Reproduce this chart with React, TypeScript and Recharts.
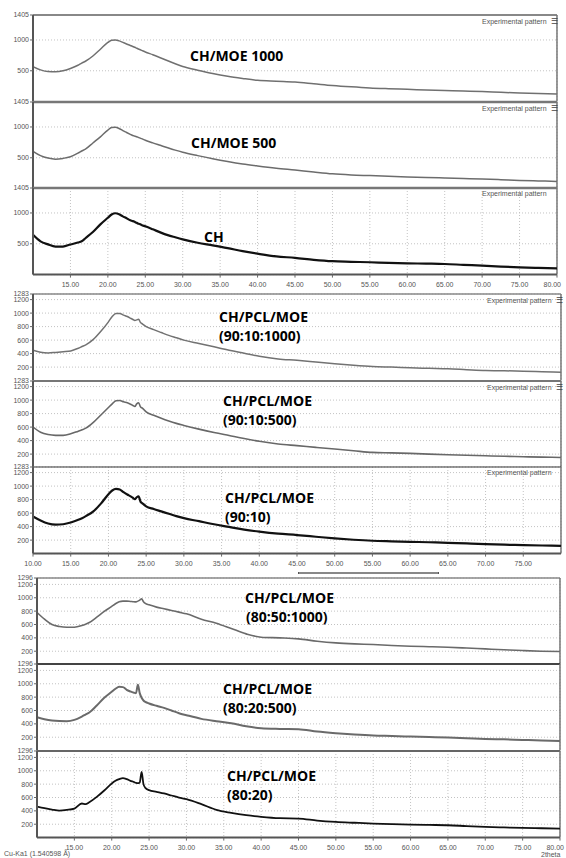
import { CartesianGrid, Line, LineChart, ReferenceLine, XAxis, YAxis } from "recharts"

// 2theta positions (deg) shared by all patterns
const angles = [
  10, 11, 12, 13, 14, 15, 16, 16.5, 17, 18, 19, 20, 20.5, 21, 21.5, 22, 22.5, 23, 23.25, 23.5, 23.75, 24, 24.25,
  24.5, 25, 26, 27, 28, 29, 30, 32, 34, 36, 38, 40, 42.5, 45, 47.5, 50, 52.5, 55, 57.5, 60, 62.5, 65, 67.5, 70,
  72.5, 75, 77.5, 80,
]

const chMoe1000 = [
  567, 515, 488, 485, 500, 538, 590, 625, 655, 740, 850, 960, 995, 998, 985, 960, 935, 910, 898, 885, 872, 858, 845,
  832, 805, 760, 712, 662, 614, 570, 510, 455, 410, 375, 345, 330, 317, 290, 262, 240, 222, 210, 200, 188, 178, 170,
  162, 150, 140, 130, 123,
]
const chMoe500 = [
  605, 535, 495, 478, 490, 517, 575, 610, 640, 740, 840, 950, 990, 995, 975, 940, 910, 880, 865, 855, 845, 835, 822,
  810, 785, 742, 702, 662, 624, 590, 535, 485, 440, 400, 367, 330, 300, 268, 239, 222, 211, 200, 189, 180, 172, 164,
  156, 145, 133, 125, 117,
]
const ch = [
  645, 540, 490, 455, 455, 489, 520, 540, 590, 690, 815, 922, 975, 995, 980, 945, 915, 880, 870, 860, 845, 830, 820,
  805, 783, 735, 685, 640, 605, 572, 517, 475, 430, 380, 339, 295, 272, 240, 217, 208, 200, 190, 183, 178, 172, 158,
  145, 130, 117, 108, 100,
]
const pcl9010_1000 = [
  450, 420, 410, 418, 428, 440, 480, 505, 530, 610, 730, 870, 950, 995, 995, 970, 950, 920, 905, 890, 900, 910, 860,
  840, 800, 755, 712, 670, 635, 600, 550, 500, 450, 405, 360, 320, 300, 275, 250, 228, 210, 200, 190, 182, 175, 162,
  150, 145, 140, 132, 125,
]
const pcl9010_500 = [
  600, 525, 490, 478, 478, 500, 540, 560, 585, 670, 780, 890, 945, 990, 995, 975, 960, 935, 920, 905, 945, 960, 900,
  880, 825, 775, 730, 690, 655, 625, 570, 520, 475, 430, 390, 350, 325, 300, 275, 250, 225, 218, 210, 200, 190, 182,
  175, 168, 160, 155, 150,
]
const pcl9010 = [
  550, 490, 445, 428, 435, 460, 500, 525, 555, 625, 740, 880, 935, 960, 950, 910, 875, 845, 825, 805, 835, 850, 770,
  745, 700, 660, 625, 590, 555, 525, 480, 435, 395, 355, 325, 295, 275, 250, 225, 205, 190, 182, 175, 168, 160, 150,
  140, 132, 125, 120, 115,
]
const pcl8050_1000 = [
  780, 680, 600, 570, 560, 560, 585, 605, 630, 710, 795, 870, 910, 940, 950, 950, 945, 940, 938, 950, 965, 985, 940,
  915, 895, 860, 835, 810, 785, 760, 680, 620, 540, 460, 410, 400, 385, 350, 325, 310, 300, 285, 275, 268, 260, 248,
  235, 222, 210, 200, 195,
]
const pcl8020_500 = [
  500, 470, 450, 442, 440, 460, 510, 540, 570, 675, 790, 880, 925, 955, 950, 910, 885, 865, 860, 985, 860, 790, 750,
  730, 705, 670, 640, 600, 560, 530, 475, 440, 410, 365, 335, 325, 320, 285, 260, 240, 225, 218, 210, 202, 195, 185,
  175, 168, 160, 152, 145,
]
const pcl8020 = [
  465, 440, 420, 405, 415, 435, 510, 500, 530, 610, 705, 810, 850, 875, 890, 875, 850, 830, 818, 815, 825, 985, 800,
  745, 710, 685, 660, 630, 600, 575, 500, 415, 370, 335, 310, 290, 285, 255, 235, 222, 210, 202, 195, 190, 185, 172,
  160, 152, 145, 140, 135,
]

const rows = angles.map((a, i) => ({
  a,
  chMoe1000: chMoe1000[i],
  chMoe500: chMoe500[i],
  ch: ch[i],
  pcl9010_1000: pcl9010_1000[i],
  pcl9010_500: pcl9010_500[i],
  pcl9010: pcl9010[i],
  pcl8050_1000: pcl8050_1000[i],
  pcl8020_500: pcl8020_500[i],
  pcl8020: pcl8020[i],
}))

const xTicksA = [15, 20, 25, 30, 35, 40, 45, 50, 55, 60, 65, 70, 75, 80]
const xTicksB = [10, 15, 20, 25, 30, 35, 40, 45, 50, 55, 60, 65, 70, 75]
const yTicks1 = [500, 1000, 1405]
const yTicks2 = [200, 400, 600, 800, 1000, 1200, 1283]
const yTicks3 = [200, 400, 600, 800, 1000, 1200, 1296]

const W = 566
const FONT = "Liberation Sans, Arial, sans-serif"
const tickFont = { fontSize: 7, fill: "#555", fontFamily: FONT }

// x tick; the last one is pulled in so it stays on the page
function XTick(props: any) {
  const { x, y, payload } = props
  const last = payload.value === 80
  return (
    <text
      x={last ? x + 4 : x}
      y={y + 7}
      textAnchor={last ? "end" : "middle"}
      fontSize={7}
      fill="#555"
      fontFamily={FONT}
    >
      {Number(payload.value).toFixed(2)}
    </text>
  )
}

type PanelProps = {
  top: number
  height: number
  left: number
  right: number
  max: number
  yTicks: number[]
  xTicks: number[]
  dataKey: string
  color: string
  width: number
  showX?: boolean
  border: string
  borderWidth: number
}

function Panel(p: PanelProps) {
  const pad = 6
  const axisH = p.showX ? 20 : 0
  return (
    <div style={{ position: "absolute", left: 0, top: p.top - pad }}>
      <LineChart width={W} height={p.height + pad + axisH} data={rows} margin={{ top: pad, right: p.right, bottom: 0, left: 0 }}>
        <CartesianGrid stroke="#c2c2c2" strokeDasharray="1 2" />
        <XAxis
          type="number"
          dataKey="a"
          domain={[10, 80]}
          ticks={p.xTicks}
          interval={0}
          allowDataOverflow
          height={axisH}
          tick={p.showX ? <XTick /> : false}
          tickSize={3}
          axisLine={p.showX ? { stroke: "#555", strokeWidth: 2 } : false}
          tickLine={p.showX ? { stroke: "#666" } : false}
        />
        <YAxis
          width={p.left}
          domain={[0, p.max]}
          ticks={p.yTicks}
          interval={0}
          allowDataOverflow
          tick={tickFont}
          tickSize={3}
          tickMargin={1}
          axisLine={{ stroke: "#555", strokeWidth: 2 }}
          tickLine={{ stroke: "#666" }}
        />
        <ReferenceLine y={p.max} stroke={p.border} strokeWidth={p.borderWidth} />
        <ReferenceLine x={80} stroke="#777" strokeWidth={1.5} />
        <Line
          type="monotone"
          dataKey={p.dataKey}
          stroke={p.color}
          strokeWidth={p.width}
          dot={false}
          isAnimationActive={false}
        />
      </LineChart>
    </div>
  )
}

const labelStyle = {
  position: "absolute" as const,
  fontFamily: "'Open Sans', sans-serif",
  fontWeight: 700,
  fontSize: 14,
  lineHeight: "14px",
  color: "#000",
  whiteSpace: "nowrap" as const,
}

function Label({ x, y, text }: { x: number; y: number; text: string }) {
  return <div style={{ ...labelStyle, left: x, top: y - 7 }}>{text}</div>
}

function Exp({ x, y, menu }: { x: number; y: number; menu?: boolean }) {
  return (
    <div
      style={{
        position: "absolute",
        left: x,
        top: y,
        fontSize: 7,
        color: "#555",
        fontFamily: FONT,
        whiteSpace: "nowrap",
      }}
    >
      Experimental pattern{menu ? <span style={{ marginLeft: 4, fontSize: 8, color: "#444" }}>☰</span> : null}
    </div>
  )
}

export default function App() {
  const h = 86.6
  return (
    <div style={{ position: "absolute", left: 0, top: 0, width: W, height: 858, background: "#fff", overflow: "hidden" }}>
      {/* group 1 */}
      <Panel top={15} height={h} left={33} right={9} max={1405} yTicks={yTicks1} xTicks={xTicksA} dataKey="chMoe1000" color="#707070" width={1.5} border="#888" borderWidth={2} />
      <Panel top={15 + h} height={h} left={33} right={9} max={1405} yTicks={yTicks1} xTicks={xTicksA} dataKey="chMoe500" color="#6c6c6c" width={1.5} border="#777" borderWidth={2.5} />
      <Panel top={15 + 2 * h} height={h} left={33} right={9} max={1405} yTicks={yTicks1} xTicks={xTicksA} dataKey="ch" color="#111" width={2.2} border="#777" borderWidth={2.5} showX />

      {/* group 2 */}
      <Panel top={294} height={h} left={33} right={5} max={1283} yTicks={yTicks2} xTicks={xTicksB} dataKey="pcl9010_1000" color="#727272" width={1.5} border="#888" borderWidth={1.5} />
      <Panel top={294 + h} height={h} left={33} right={5} max={1283} yTicks={yTicks2} xTicks={xTicksB} dataKey="pcl9010_500" color="#686868" width={1.6} border="#777" borderWidth={2} />
      <Panel top={294 + 2 * h} height={h} left={33} right={5} max={1283} yTicks={yTicks2} xTicks={xTicksB} dataKey="pcl9010" color="#111" width={2.2} border="#333" borderWidth={1} showX />

      {/* group 3 */}
      <Panel top={577.5} height={h} left={37} right={6} max={1296} yTicks={yTicks3} xTicks={xTicksA} dataKey="pcl8050_1000" color="#6a6a6a" width={1.6} border="#888" borderWidth={1.5} />
      <Panel top={577.5 + h} height={h} left={37} right={6} max={1296} yTicks={yTicks3} xTicks={xTicksA} dataKey="pcl8020_500" color="#6a6a6a" width={2} border="#444" borderWidth={2} />
      <Panel top={577.5 + 2 * h} height={h} left={37} right={6} max={1296} yTicks={yTicks3} xTicks={xTicksA} dataKey="pcl8020" color="#111" width={1.8} border="#666" borderWidth={2} showX />

      <Exp x={482} y={17} menu />
      <Exp x={482} y={104} menu />
      <Exp x={482} y={190} />
      <Exp x={487} y={296} menu />
      <Exp x={487} y={383} menu />
      <Exp x={487} y={469} />

      <Label x={190} y={56} text="CH/MOE 1000" />
      <Label x={191} y={143} text="CH/MOE 500" />
      <Label x={204} y={237} text="CH" />
      <Label x={219} y={317} text="CH/PCL/MOE" />
      <Label x={219} y={336} text="(90:10:1000)" />
      <Label x={223} y={401} text="CH/PCL/MOE" />
      <Label x={223} y={420} text="(90:10:500)" />
      <Label x={225} y={498} text="CH/PCL/MOE" />
      <Label x={225} y={517} text="(90:10)" />
      <Label x={245} y={598} text="CH/PCL/MOE" />
      <Label x={246} y={617} text="(80:50:1000)" />
      <Label x={223} y={689} text="CH/PCL/MOE" />
      <Label x={223} y={708} text="(80:20:500)" />
      <Label x={227} y={776} text="CH/PCL/MOE" />
      <Label x={227} y={795} text="(80:20)" />

      {/* scroll bar under the middle axis */}
      <div style={{ position: "absolute", left: 298, top: 572, width: 139, height: 2, background: "#888", borderLeft: "1px solid #555", borderRight: "1px solid #555" }} />

      <div style={{ position: "absolute", left: 4, top: 850, fontSize: 7, color: "#555", fontFamily: FONT }}>
        Cu-Ka1 (1.540598 Å)
      </div>
      <div style={{ position: "absolute", left: 541, top: 851, fontSize: 7, color: "#555", fontFamily: FONT }}>
        2theta
      </div>
    </div>
  )
}
